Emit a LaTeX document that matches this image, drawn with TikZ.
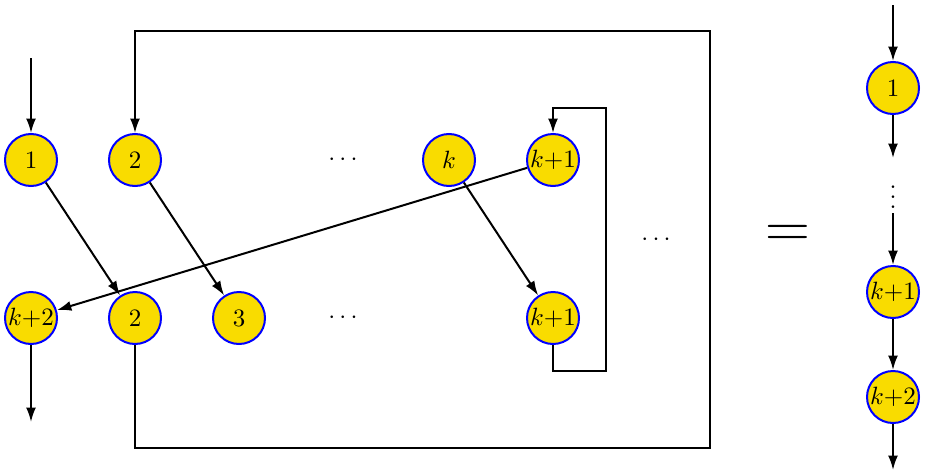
\documentclass[tikz,border=0pt]{standalone}
\usetikzlibrary{arrows.meta}
\definecolor{nodeyellow}{HTML}{F9DC00}
\begin{document}
\begin{tikzpicture}[x=0.4pt,y=-0.4pt,
  vnode/.style={circle,draw=blue,fill=nodeyellow,line width=0.8pt,minimum size=20.8pt,inner sep=0pt},
  conn/.style={line width=0.8pt,-{Latex[length=5.8pt,width=4pt]}},
  wire/.style={line width=0.8pt}]
\useasboundingbox (0,0) rectangle (925,473);
% top row
\node[vnode] (t1) at (31,160) {$1$};
\node[vnode] (t2) at (135,160) {$2$};
\node (tdots) at (343,160) {$\cdots$};
\node[vnode] (tk) at (449,160) {$k$};
\node[vnode] (tk1) at (553,160) {$k{+}1$};
% bottom row
\node[vnode] (bk2) at (31,318) {$k{+}2$};
\node[vnode] (b2) at (135,318) {$2$};
\node[vnode] (b3) at (239,318) {$3$};
\node (bdots) at (343,318) {$\cdots$};
\node[vnode] (bk1) at (553,318) {$k{+}1$};
\node (mdots) at (656,240) {$\cdots$};
\node (eq) at (788,236) {\Huge$=$};
% right column
\node[vnode] (r1) at (893,88) {$1$};
\node (rdots) at (893,190) {$\vdots$};
\node[vnode] (rk1) at (893,292) {$k{+}1$};
\node[vnode] (rk2) at (893,397) {$k{+}2$};
% coordinates
\coordinate (in) at (31,58);
\coordinate (out) at (31,422);
\coordinate (bl1) at (135,448);
\coordinate (bl2) at (710,448);
\coordinate (bl3) at (710,31);
\coordinate (bl4) at (135,31);
\coordinate (sl1) at (553,371);
\coordinate (sl2) at (606,371);
\coordinate (sl3) at (606,108);
\coordinate (sl4) at (553,108);
\coordinate (rin) at (893,5);
\coordinate (ra) at (893,158);
\coordinate (rb) at (893,213);
\coordinate (rout) at (893,470);
% connectors
\draw[conn] (in) -- (t1);
\draw[conn] (bk2) -- (out);
\draw[conn] (t1) -- (b2);
\draw[conn] (t2) -- (b3);
\draw[conn] (tk) -- (bk1);
\draw[conn] (tk1) -- (bk2);
\draw[conn] (b2.south) -- (bl1) -- (bl2) -- (bl3) -- (bl4) -- (t2.north);
\draw[conn] (bk1.south) -- (sl1) -- (sl2) -- (sl3) -- (sl4) -- (tk1.north);
\draw[conn] (rin) -- (r1);
\draw[conn] (r1) -- (ra);
\draw[conn] (rb) -- (rk1);
\draw[conn] (rk1) -- (rk2);
\draw[conn] (rk2) -- (rout);
\end{tikzpicture}
\end{document}
